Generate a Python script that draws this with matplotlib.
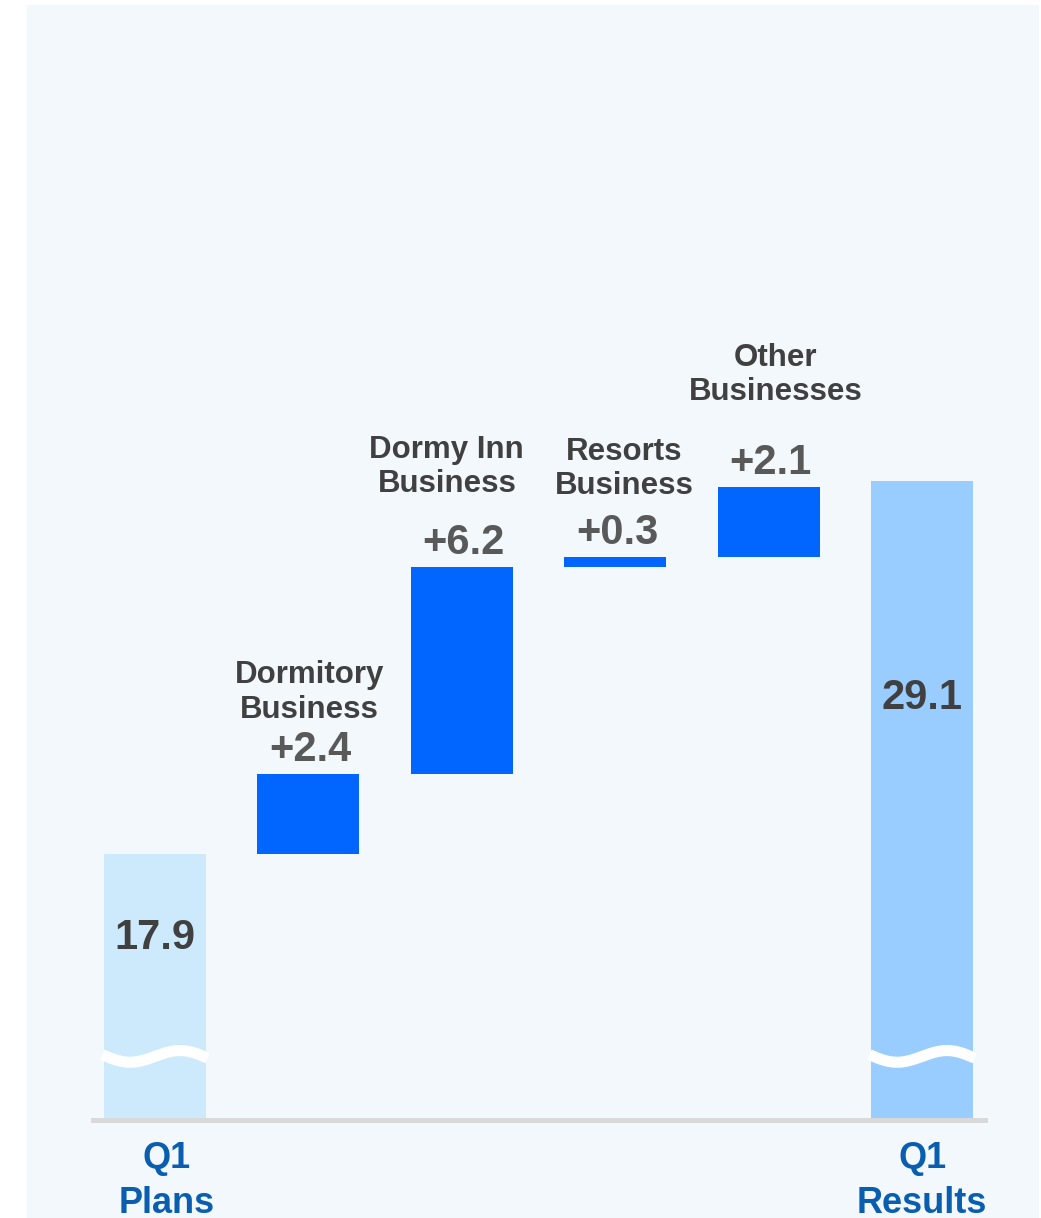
import numpy as np
import matplotlib.pyplot as plt
from matplotlib.patches import Rectangle

plt.rcParams['font.family'] = ['Liberation Sans', 'DejaVu Sans']

# Data
steps = ['Q1\nPlans', 'Dormitory\nBusiness', 'Dormy Inn\nBusiness',
         'Resorts\nBusiness', 'Other\nBusinesses', 'Q1\nResults']
plan_value = 17.9
deltas = [2.4, 6.2, 0.3, 2.1]
result_value = 29.1
y_floor = 9.9   # axis is broken, bars start from here

# Layout
bar_w = 0.665
name_gap = [56, 75, 63, 87]   # px from bar top to last baseline of business label
name_nudge = [1, -15, 9, 7]
col_plan = '#cdeafd'
col_result = '#99ccff'
col_delta = '#0066ff'
bg = '#f2f8fc'
ppu = 33.3  # pixels per unit

fig = plt.figure(figsize=(10.41, 12.18), dpi=100)
fig.patches.append(Rectangle((27 / 1041, 0), (1038 - 27) / 1041, 1 - 5 / 1218,
                             transform=fig.transFigure, color=bg, zorder=-10))
ax = fig.add_axes([93 / 1041, 98 / 1218, (985 - 93) / 1041, 1115 / 1218])
ax.set_facecolor('none')

x = np.arange(len(steps))
px = 72 / 100  # points per pixel

# start / end bars
ax.bar(x[0], plan_value - y_floor, bottom=y_floor, width=bar_w, color=col_plan)
ax.bar(x[-1], result_value - y_floor, bottom=y_floor, width=bar_w, color=col_result)

# delta bars
base = plan_value
for i, d in enumerate(deltas):
    xi = x[i + 1]
    ax.bar(xi, d, bottom=base, width=bar_w, color=col_delta)
    top = base + d
    ax.annotate(f'+{d:.1f}', (xi, top), xytext=(2 * px, 13 * px), textcoords='offset points',
                ha='center', va='baseline', fontsize=30, fontweight='bold', color='#595959')
    ax.annotate(steps[i + 1], (xi, top), xytext=(name_nudge[i] * px, name_gap[i] * px),
                textcoords='offset points', ha='center', va='baseline',
                fontsize=22.5, fontweight='bold', color='#404040')
    base = top

# totals inside bars
ax.text(x[0], 15.05, f'{plan_value:.1f}', ha='center', va='baseline',
        fontsize=30, fontweight='bold', color='#404040')
ax.text(x[-1], 22.25, f'{result_value:.1f}', ha='center', va='baseline',
        fontsize=30, fontweight='bold', color='#404040')

# wavy break marks
t = np.linspace(0, 1, 200)
for xi in (x[0], x[-1]):
    wx = xi - bar_w / 2 - 0.01 + t * (bar_w + 0.02)
    wy = 11.86 - 0.2 * np.sin(2 * np.pi * t) - 0.1 * t
    ax.plot(wx, wy, color='white', lw=8, solid_capstyle='butt', zorder=5)

# bottom labels
for xi, lab, dx in ((x[0], steps[0], 12), (x[-1], steps[-1], 0)):
    ax.annotate(lab, (xi, 0), xycoords=('data', 'axes fraction'),
                xytext=(dx * px, -93 * px), textcoords='offset points',
                ha='center', va='baseline', fontsize=26, fontweight='bold',
                color='#0a5eb0', linespacing=1.36, annotation_clip=False)

ax.set_xlim(-0.404, 5.41)
ax.set_ylim(y_floor, y_floor + 1115 / ppu)
for s in ('top', 'left', 'right'):
    ax.spines[s].set_visible(False)
ax.spines['bottom'].set_color('#d9d9d9')
ax.spines['bottom'].set_linewidth(3.6)
ax.set_xticks([])
ax.set_yticks([])

fig.savefig('out.png', dpi=100, facecolor='white')
